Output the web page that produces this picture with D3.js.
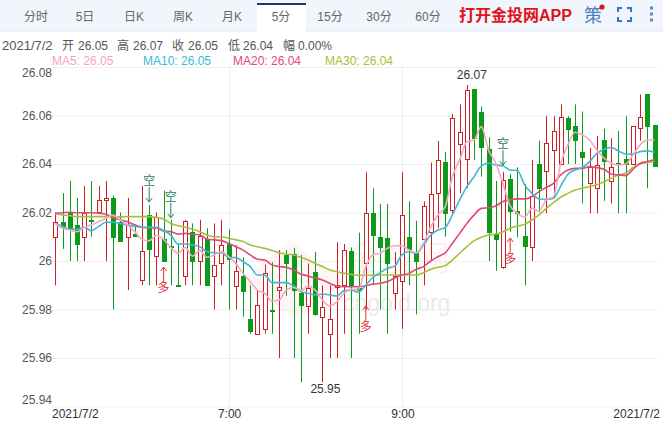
<!DOCTYPE html>
<html><head><meta charset="utf-8">
<script src="https://cdn.jsdelivr.net/npm/d3@7/dist/d3.min.js"></script>
<style>html,body{margin:0;padding:0;background:#fff}svg{display:block}text{font-family:"Liberation Sans",Arial,"Noto Sans CJK SC",sans-serif}</style>
</head><body><div id="c"></div>
<script>
const opens=[26.010,26.016,26.020,26.015,26.010,26.017,26.020,26.025,26.026,26.016,
26.010,26.011,25.992,26.019,26.002,26.009,26.006,25.990,25.994,26.012,
26.000,26.009,25.994,25.999,26.007,25.990,25.994,25.976,25.970,25.972,
25.980,25.988,26.0025,26.003,25.987,25.9816,25.9955,25.977,25.970,25.989,
25.990,26.004,25.989,25.999,26.020,26.010,26.0094,25.987,25.9916,26.010,
26.0034,26.009,26.0117,26.028,26.041,26.021,26.048,26.042,26.071,26.0613,
26.046,26.011,25.9977,26.034,26.0205,26.0103,26.006,26.040,26.037,26.0456,
26.040,26.059,26.0555,26.0448,26.032,26.030,26.050,26.0329,26.0403,26.042,
26.040,26.0547,26.0689,26.0561];
const closes=[26.016,26.014,26.014,26.007,26.020,26.0165,26.025,26.026,26.010,26.008,
26.015,26.010,26.004,26.005,26.018,26.000,26.0055,25.9895,26.0165,26.000,
26.0105,25.990,25.9985,26.0065,26.0007,25.996,25.988,25.971,25.982,25.995,
25.9797,25.9894,25.999,25.988,25.982,25.989,25.978,25.981,25.976,25.990,
26.0044,25.990,25.988,26.0197,26.011,26.006,25.999,25.994,26.019,26.005,
26.000,26.0225,26.0275,26.0415,26.020,26.059,26.053,26.0704,26.0506,26.0468,
26.0117,26.009,26.0334,26.021,26.0198,26.006,26.027,26.030,26.0485,26.0535,
26.0593,26.0546,26.0496,26.0426,26.0386,26.0395,26.0415,26.0386,26.040,26.040,
26.0555,26.0593,26.0558,26.039];
const highs=[26.020,26.028,26.033,26.026,26.031,26.033,26.031,26.033,26.027,26.020,
26.026,26.015,26.031,26.023,26.020,26.029,26.017,26.007,26.017,26.0155,
26.017,26.0135,26.0155,26.017,26.013,26.0065,26.0015,25.990,25.988,25.9985,
25.9995,26.0045,26.0045,26.0054,26.0025,25.999,26.0037,25.990,25.990,26.0077,
26.007,26.0056,26.0117,26.0366,26.030,26.0235,26.0235,26.0036,26.0366,26.0246,
26.0166,26.0246,26.0406,26.0495,26.045,26.0606,26.0646,26.0726,26.071,26.0637,
26.051,26.033,26.0368,26.0358,26.0386,26.0318,26.0417,26.0496,26.0597,26.0597,
26.0646,26.0597,26.0646,26.0616,26.0466,26.0516,26.0546,26.0506,26.0536,26.0597,
26.0555,26.0686,26.0689,26.0561];
const lows=[25.990,26.005,26.000,26.000,26.000,26.010,26.020,26.000,25.980,26.008,
25.988,26.010,25.990,25.990,25.990,26.000,25.990,25.9895,25.990,25.990,
25.990,25.990,25.980,25.990,25.980,25.980,25.977,25.970,25.970,25.970,
25.970,25.960,25.9856,25.960,25.950,25.970,25.9775,25.950,25.960,25.960,
25.970,25.960,25.970,25.980,25.990,25.980,25.970,25.980,25.972,25.990,
25.978,25.990,26.000,26.0136,26.010,26.019,26.028,26.030,26.0417,26.0348,
26.000,25.996,25.9968,26.012,26.0098,25.990,26.000,26.020,26.0197,26.0258,
26.040,26.040,26.040,26.0237,26.0197,26.0197,26.0248,26.0237,26.0197,26.0197,
26.040,26.0496,26.030,26.039];
const ma5=[26.0155,26.0135,26.0128,26.0121,26.0139,26.0149,26.0162,26.0176,26.019,26.0169,
26.0149,26.0121,26.0089,26.0084,26.0105,26.0089,26.0056,26.0032,26.0056,26.002,
26.0044,26.0015,26.0025,26.0039,26.0018,25.999,25.9949,25.9915,25.988,25.9867,
25.9835,25.9839,25.988,25.9891,25.9878,25.9897,25.988,25.9839,25.9814,25.9832,
25.9867,25.9883,25.9883,25.9977,26.0025,26.0032,26.0052,26.0063,26.0063,26.0045,
26.0034,26.0073,26.0142,26.019,26.0224,26.0348,26.0417,26.0492,26.0499,26.0554,
26.0458,26.0403,26.032,26.0227,26.0197,26.018,26.0217,26.0206,26.0252,26.0265,
26.0403,26.0479,26.0531,26.052,26.0499,26.0458,26.0424,26.0403,26.0396,26.04,
26.0437,26.0479,26.0499,26.0499];
const ma10=[26.0155,26.0142,26.0131,26.0131,26.0139,26.0125,26.0142,26.016,26.016,26.0155,
26.0149,26.0142,26.0139,26.0139,26.0139,26.0125,26.0107,26.007,26.007,26.0066,
26.0059,26.0039,26.0034,26.0034,26.0015,26.0014,25.9997,25.9977,25.9942,25.9942,
25.9911,25.9911,25.9911,25.9897,25.9874,25.9867,25.986,25.9864,25.986,25.9856,
25.9878,25.988,25.9871,25.9901,25.9933,25.9952,25.997,25.9979,26.0025,26.0039,
26.0032,26.0066,26.0107,26.0128,26.0138,26.019,26.0252,26.0307,26.0348,26.0392,
26.0403,26.0396,26.0392,26.0375,26.0373,26.0314,26.0279,26.0256,26.0254,26.0259,
26.0309,26.0358,26.0375,26.0386,26.041,26.0444,26.0461,26.0468,26.0454,26.0441,
26.0441,26.0451,26.0454,26.0448];
const ma20=[26.0197,26.0199,26.0201,26.0199,26.0199,26.0199,26.0197,26.0193,26.0179,26.0169,
26.0162,26.0149,26.0139,26.0136,26.0136,26.0124,26.0121,26.0111,26.0114,26.011,
26.0107,26.0091,26.0087,26.0084,26.0073,26.0059,26.0045,26.0025,26.0007,26.0004,
25.9984,25.9977,25.9974,25.9963,25.9946,25.9938,25.9929,25.9922,25.9908,25.9897,
25.9894,25.9894,25.9894,25.9898,25.9905,25.9908,25.9915,25.9929,25.9942,25.9949,
25.9966,25.9977,26.0,26.0018,26.0034,26.0073,26.0114,26.0155,26.019,26.0217,
26.022,26.0227,26.0245,26.0252,26.0256,26.0256,26.0265,26.0286,26.0303,26.032,
26.0355,26.0375,26.0382,26.0382,26.0389,26.0385,26.0378,26.0359,26.0355,26.0352,
26.0378,26.0403,26.041,26.0419];
const ma30=[26.0194,26.019,26.0187,26.0183,26.0183,26.0183,26.0183,26.0183,26.0183,26.0182,
26.0183,26.0183,26.0183,26.0183,26.018,26.0173,26.0155,26.0146,26.0139,26.0131,
26.0121,26.0107,26.01,26.01,26.0094,26.0087,26.008,26.0066,26.0059,26.0052,
26.0043,26.0034,26.0029,26.0025,26.0015,26.0004,25.999,25.9977,25.9963,25.9956,
25.9949,25.9945,25.9941,25.9941,25.9941,25.9942,25.9942,25.9942,25.9942,25.9942,
25.9942,25.9952,25.9966,25.9974,25.9981,26.0004,26.0032,26.0059,26.0084,26.0098,
26.0107,26.0111,26.0121,26.0135,26.0144,26.0151,26.0169,26.019,26.0217,26.0241,
26.0263,26.0279,26.0293,26.03,26.0307,26.0314,26.0327,26.0341,26.0355,26.0362,
26.0386,26.04,26.0406,26.041];
const yTicks=[26.08,26.06,26.04,26.02,26,25.98,25.96,25.94];
const tabs=["分时","5日","日K","周K","月K","5分","15分","30分","60分"];
const xLabels=[[24,"7:00"],[48,"9:00"]];
const shortIdx=[13,16,62], shortPrice=[26.0243,26.0178,26.0395];
const longIdx=[15,43,63], longPrice=[25.9975,25.9815,26.0095];
const maNames=["MA5: 26.05","MA10: 26.05","MA20: 26.04","MA30: 26.04"];
const maSeries=[ma30,ma20,ma10,ma5];

const W=663,H=421,red="#cb2027",green="#0c9a1a";
const svg=d3.select("#c").append("svg").attr("width",W).attr("height",H);
const x=d3.scaleLinear().domain([0,83]).range([55.3,654.6]);
const y=d3.scaleLinear().domain([25.94,26.08]).range([406.5,67]);
const px=v=>Math.round(v)+0.5;

// toolbar
svg.append("rect").attr("width",W).attr("height",31).attr("fill","#f1f5fc");
svg.append("rect").attr("y",30.5).attr("width",W).attr("height",1).attr("fill","#dfe5ef");
svg.append("rect").attr("x",257).attr("y",3).attr("width",49).attr("height",29).attr("fill","#fff");
svg.append("rect").attr("x",257).attr("y",3).attr("width",49).attr("height",2).attr("fill","#1d3a70");
const tabX=d3.scaleLinear().domain([0,8]).range([36,428]);
svg.selectAll(".tab").data(tabs).join("text").attr("class","tab").attr("x",(d,i)=>tabX(i)).attr("y",21)
 .attr("text-anchor","middle").attr("font-size",12).attr("fill","#666").text(d=>d);
svg.append("text").attr("x",459).attr("y",21).attr("font-size",16).attr("font-weight","bold").attr("fill","#e1121a").text("打开金投网APP");
svg.append("text").attr("x",584).attr("y",22).attr("font-size",18).attr("fill","#4a80c0").text("策");
svg.append("circle").attr("cx",602).attr("cy",7).attr("r",2.6).attr("fill","#e1121a");
svg.append("path").attr("d","M618 12V8H622M627 8H631V12M631 17V21H627M622 21H618V17").attr("fill","none").attr("stroke","#3574c4").attr("stroke-width",2);
svg.selectAll(".dot").data([8,14,20]).join("rect").attr("class","dot").attr("x",650).attr("y",d=>d-1.5).attr("width",3).attr("height",3).attr("fill","#5b8ccc");

// header
const info=[[2,"2021/7/2",13],[62,"开",12],[78,"26.05",12],[117,"高",12],[133,"26.07",12],[172,"收",12],[188,"26.05",12],[228,"低",12],[243,"26.04",12],[283,"幅",12],[298,"0.00%",12]];
svg.selectAll(".info").data(info).join("text").attr("class","info").attr("x",d=>d[0]).attr("y",49.5).attr("font-size",d=>d[2]).attr("fill","#555").text(d=>d[1]);
const legX=[52,143,233,325],legC=["#f5a3c0","#35bcd6","#e4497c","#a6c132"];
svg.selectAll(".leg").data(maNames).join("text").attr("class","leg").attr("x",(d,i)=>legX[i]).attr("y",65).attr("font-size",12).attr("fill",(d,i)=>legC[i]).text(d=>d);

// watermark
const wm=svg.append("g");
wm.append("path").attr("d","M290 240L345 282L300 320L238 285Z").attr("fill","#e8604c").attr("opacity",0.06);
wm.append("text").attr("x",345).attr("y",271).attr("font-size",35).attr("fill","#e8604c").attr("opacity",0.08).text("金投网");
wm.append("text").attr("x",343).attr("y",311).attr("font-size",23).attr("fill","#8a8a9a").attr("opacity",0.18).text("cngold.org");

// axes and grid
const yAxis=d3.axisLeft(y).tickValues(yTicks).tickFormat(d=>String(+d.toFixed(2))).tickSize(-605).tickPadding(0);
const ga=svg.append("g").attr("transform","translate(52,0)").call(yAxis);
ga.select(".domain").remove();
ga.selectAll("line").attr("stroke","#eeeeee");
ga.selectAll("text").attr("font-size",12).attr("fill","#555").attr("font-family",'"Liberation Sans",Arial,sans-serif')
  .attr("dy",d=>d===26.08?"0.8em":d===25.94?"-0.25em":"0.32em");
const gx=svg.append("g");
gx.selectAll("line").data(xLabels).join("line").attr("x1",d=>px(x(d[0]))).attr("x2",d=>px(x(d[0]))).attr("y1",68).attr("y2",406.5).attr("stroke","#eeeeee");
gx.selectAll("text").data(xLabels).join("text").attr("x",d=>x(d[0])+1).attr("y",418).attr("text-anchor","middle").attr("font-size",12).attr("fill","#333").text(d=>d[1]);
svg.append("text").attr("x",52).attr("y",418).attr("font-size",12).attr("fill","#333").text("2021/7/2");
svg.append("text").attr("x",660).attr("y",418).attr("text-anchor","end").attr("font-size",12).attr("fill","#333").text("2021/7/2");

// candles
const idx=d3.range(opens.length);
const col=i=>closes[i]>=opens[i]?red:green;
const cg=svg.append("g");
cg.selectAll("line").data(idx).join("line").attr("x1",i=>px(x(i))).attr("x2",i=>px(x(i)))
 .attr("y1",i=>y(highs[i])).attr("y2",i=>y(lows[i])).attr("stroke",col).attr("stroke-width",1);
cg.selectAll("rect").data(idx).join("rect")
 .attr("x",i=>px(x(i))-2).attr("width",4)
 .attr("y",i=>Math.round(y(Math.max(opens[i],closes[i])))+0.5)
 .attr("height",i=>Math.max(1,Math.round(Math.abs(y(opens[i])-y(closes[i])))))
 .attr("fill",i=>closes[i]>=opens[i]?"#fff":green).attr("stroke",col).attr("stroke-width",1);

// moving averages
const lineC=["#a9bd3c","#e0487a","#3fb8d4","#f5a8c2"];
const line=d3.line().x((d,i)=>x(i)).y(d=>y(d)).curve(d3.curveMonotoneX);
svg.selectAll(".ma").data(maSeries).join("path").attr("class","ma").attr("d",line).attr("fill","none")
 .attr("stroke",(d,i)=>lineC[i]).attr("stroke-width",1.6);

// signals
const sg=svg.append("g").attr("font-size",12);
shortIdx.forEach((k,j)=>{const X=x(k),Y=y(shortPrice[j]);
 sg.append("path").attr("d",`M${X} ${Y-15}V${Y}M${X-3} ${Y-4}L${X} ${Y}L${X+3} ${Y-4}`).attr("fill","none").attr("stroke","#2a7d57");
 sg.append("text").attr("x",X).attr("y",Y-17).attr("text-anchor","middle").attr("fill","#2a7d57").text("空");});
longIdx.forEach((k,j)=>{const X=x(k),Y=y(longPrice[j]);
 sg.append("path").attr("d",`M${X} ${Y+14}V${Y}M${X-3} ${Y+4}L${X} ${Y}L${X+3} ${Y+4}`).attr("fill","none").attr("stroke","#e0303a");
 sg.append("text").attr("x",X).attr("y",Y+25).attr("text-anchor","middle").attr("fill","#e0303a").text("多");});

// extreme labels
svg.append("text").attr("x",x(57)+5).attr("y",y(highs[57])-6).attr("text-anchor","middle").attr("font-size",12).attr("fill","#333").text("26.07");
svg.append("text").attr("x",x(37)+3).attr("y",y(lows[37])+11).attr("text-anchor","middle").attr("font-size",12).attr("fill","#333").text("25.95");
</script></body></html>
